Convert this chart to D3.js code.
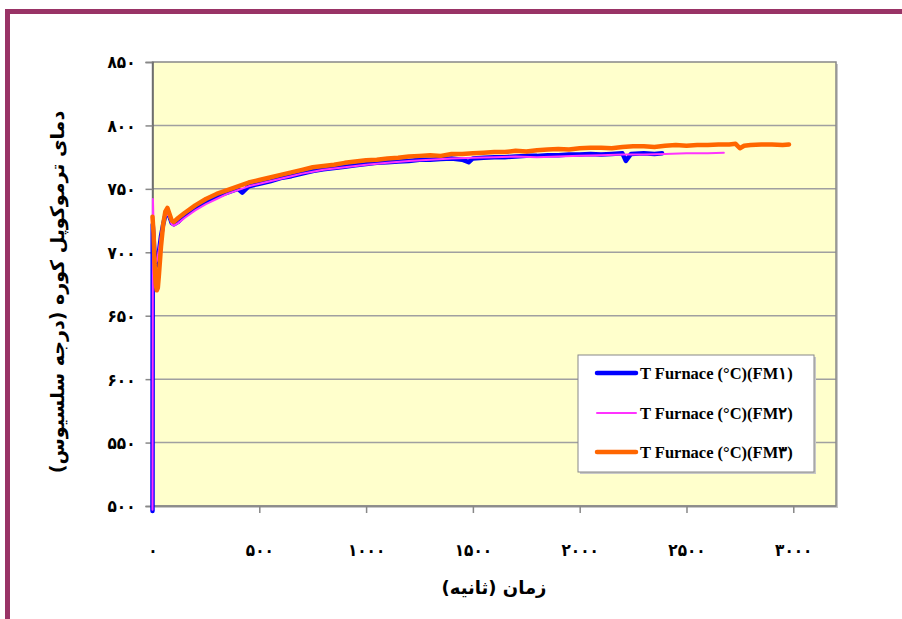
<!DOCTYPE html>
<html><head><meta charset="utf-8">
<script src="https://cdn.jsdelivr.net/npm/d3@7"></script>
<style>body{margin:0;background:#fff;} svg{display:block}</style>
</head><body><svg id="c" width="902" height="619"></svg>
<script>
// ---- data ----
const seriesNames = ["T Furnace (°C)(FM۱)", "T Furnace (°C)(FM۲)", "T Furnace (°C)(FM۳)"];
const xTicks = [0, 500, 1000, 1500, 2000, 2500, 3000];
const yTicks = [500, 550, 600, 650, 700, 750, 800, 850];
const xTitle = "زمان (ثانیه)";
const yTitle = "دمای ترموکوپل کوره (درجه سلسیوس)";

const fm1Time = [0, 1, 5, 10, 15, 20, 30, 40, 50, 60, 70, 80, 90, 100, 120, 150, 200, 250, 300, 350, 400, 420, 450, 500, 550, 600, 650, 700, 750, 800, 850, 900, 950, 1000, 1050, 1100, 1150, 1200, 1250, 1300, 1350, 1400, 1450, 1480, 1500, 1550, 1600, 1650, 1700, 1750, 1800, 1850, 1900, 1950, 2000, 2050, 2100, 2150, 2200, 2216, 2240, 2300, 2350, 2386];
const fm1Temp = [496, 722, 712, 697, 689, 690, 700, 713, 722, 729, 732, 728, 723, 722, 724, 729, 735, 740, 744, 747, 750, 747, 752, 754, 756, 758.5, 760, 762, 764, 765.5, 766.5, 767.5, 768.5, 769.5, 770.5, 771, 771.5, 772, 773, 773, 773.5, 774, 773, 771, 774, 774.5, 775, 775, 775.5, 776, 776, 776.5, 776.5, 777, 777, 777.5, 777, 777.5, 778, 772, 777.5, 778, 777.5, 778];

const fm2Time = [0, 2, 5, 10, 15, 20, 30, 40, 50, 60, 70, 80, 90, 100, 120, 150, 200, 250, 300, 350, 400, 450, 500, 550, 600, 650, 700, 750, 800, 850, 900, 950, 1000, 1100, 1200, 1300, 1400, 1500, 1600, 1700, 1800, 1900, 2000, 2100, 2200, 2300, 2400, 2500, 2600, 2675];
const fm2Temp = [497, 742, 722, 700, 692, 693, 702, 714, 722, 728, 731, 727, 722, 721, 723, 727, 733, 738, 742, 746, 749, 752, 754, 756, 758, 760, 762, 763.5, 765, 766, 767, 768, 769, 770.5, 772, 773, 774, 774.5, 775, 775.5, 775, 775.5, 776, 776.5, 777, 777, 777.5, 778, 778, 778.5];

const fm3Time = [0, 5, 10, 15, 20, 25, 30, 40, 50, 60, 70, 80, 90, 100, 120, 150, 200, 250, 300, 350, 400, 450, 500, 550, 600, 650, 700, 750, 800, 850, 900, 950, 1000, 1050, 1100, 1150, 1200, 1250, 1300, 1350, 1400, 1450, 1500, 1550, 1600, 1650, 1700, 1750, 1800, 1850, 1900, 1950, 2000, 2050, 2100, 2150, 2200, 2250, 2300, 2350, 2400, 2450, 2500, 2550, 2600, 2650, 2700, 2730, 2750, 2770, 2800, 2850, 2900, 2950, 2980];
const fm3Temp = [728, 715, 690, 675, 670, 672, 682, 705, 722, 732, 735, 730, 725, 724, 727, 731, 737, 742, 746, 749, 752, 755, 757, 759, 761, 763, 765, 767, 768, 769, 770.5, 771.5, 772.5, 773, 774, 774.5, 775.5, 776, 776.5, 776, 777.5, 777.5, 778, 778.5, 779, 779, 780, 779.5, 780.5, 781, 781.5, 781, 782, 782.5, 782.5, 782, 783, 783.5, 783.5, 783, 784, 784.5, 784, 784.5, 784.5, 785, 785, 785.5, 782, 784, 784.5, 785, 785, 784.5, 785];

const seriesColors = ["#0000FF", "#FF33FF", "#FF6600"];

// ---- helpers ----
const fa = s => String(s).replace(/[0-9]/g, d => "۰۱۲۳۴۵۶۷۸۹"[+d]);
const numFont = "'DejaVu Sans Condensed', 'DejaVu Sans', sans-serif";

const svg = d3.select("#c");
const W = 902, H = 619;

// frame
svg.append("path").attr("d", `M7.5,${H + 5} L7.5,11.5 L${W + 5},11.5`)
  .attr("fill", "none").attr("stroke", "#993366").attr("stroke-width", 5);

const x = d3.scaleLinear().domain([0, 3200]).range([152.5, 836]);
const y = d3.scaleLinear().domain([500, 850]).range([506, 62]);

const x0 = x(0), x1 = x(3200), y0 = y(500), y1 = y(850);

// plot shadow + background
svg.append("rect").attr("x", x0 + 2).attr("y", y1 + 2).attr("width", x1 - x0).attr("height", y0 - y1)
  .attr("fill", "#c8c8c8");
svg.append("rect").attr("x", x0).attr("y", y1).attr("width", x1 - x0).attr("height", y0 - y1)
  .attr("fill", "#FFFFCC");

// gridlines
svg.append("g").selectAll("line").data(yTicks.filter(v => v > 500 && v < 850)).join("line")
  .attr("x1", x0).attr("x2", x1).attr("y1", d => y(d)).attr("y2", d => y(d))
  .attr("stroke", "#a0a0a0").attr("stroke-width", 1.5);

// plot border
svg.append("rect").attr("x", x0).attr("y", y1).attr("width", x1 - x0).attr("height", y0 - y1)
  .attr("fill", "none").attr("stroke", "#888").attr("stroke-width", 1.5);

// axes
const yAxis = d3.axisLeft(y).tickValues(yTicks).tickSize(7).tickFormat(fa);
const gy = svg.append("g").attr("transform", `translate(${x0},0)`).call(yAxis);
gy.select(".domain").attr("stroke", "#666").attr("stroke-width", 1.5);
gy.selectAll(".tick line").attr("stroke", "#888").attr("stroke-width", 1.5);
gy.selectAll(".tick text").attr("x", -17).attr("dy", "0.35em")
  .style("font-family", numFont).style("font-weight", "bold").style("font-size", "17px").attr("fill", "#000");

const xAxis = d3.axisBottom(x).tickValues(xTicks).tickSize(7).tickFormat(fa);
const gx = svg.append("g").attr("transform", `translate(0,${y0})`).call(xAxis);
gx.select(".domain").attr("stroke", "#888").attr("stroke-width", 1.5).attr("d", `M${x0},0H${x1}`);
gx.selectAll(".tick line").attr("stroke", "#888").attr("stroke-width", 1.5);
gx.selectAll(".tick text").attr("y", 44).attr("dy", "0.35em")
  .style("font-family", numFont).style("font-weight", "bold").style("font-size", "17px").attr("fill", "#000");

// series
const series = [
  {t: fm1Time, v: fm1Temp, w: 4.5},
  {t: fm2Time, v: fm2Temp, w: 2},
  {t: fm3Time, v: fm3Temp, w: 4.5}
];
const line = d3.line().x(d => x(d[0])).y(d => y(d[1]));
series.forEach((s, i) => {
  svg.append("path").datum(s.t.map((t, j) => [t, s.v[j]]))
    .attr("d", line).attr("fill", "none").attr("stroke", seriesColors[i])
    .attr("stroke-width", s.w).attr("stroke-linejoin", "round").attr("stroke-linecap", "round");
});

// legend
const lg = svg.append("g");
lg.append("rect").attr("x", 580).attr("y", 357).attr("width", 236).attr("height", 117).attr("fill", "#c8c8c8");
lg.append("rect").attr("x", 578).attr("y", 355).attr("width", 236).attr("height", 117)
  .attr("fill", "#fff").attr("stroke", "#888").attr("stroke-width", 1);
const rowY = [373, 413, 452];
seriesNames.forEach((n, i) => {
  lg.append("line").attr("x1", 597).attr("x2", 636).attr("y1", rowY[i]).attr("y2", rowY[i])
    .attr("stroke", seriesColors[i]).attr("stroke-width", series[i].w).attr("stroke-linecap", "round");
  lg.append("text").attr("x", 640).attr("y", rowY[i]).attr("dy", "0.35em").text(n)
    .style("font-family", "'Liberation Serif', 'DejaVu Serif', serif").style("font-weight", "bold").style("font-size", "16.5px");
});

// titles
svg.append("text").attr("x", 494).attr("y", 588).attr("dy", "0.35em").attr("text-anchor", "middle")
  .attr("direction", "rtl")
  .style("font-family", "'DejaVu Sans', sans-serif").style("font-weight", "bold").style("font-size", "18px").text(xTitle);
svg.append("text").attr("transform", "translate(57,292) rotate(-90)").attr("dy", "0.35em").attr("text-anchor", "middle")
  .attr("direction", "rtl")
  .style("font-family", "'DejaVu Sans', sans-serif").style("font-weight", "bold").style("font-size", "19px").text(yTitle);
</script></body></html>
